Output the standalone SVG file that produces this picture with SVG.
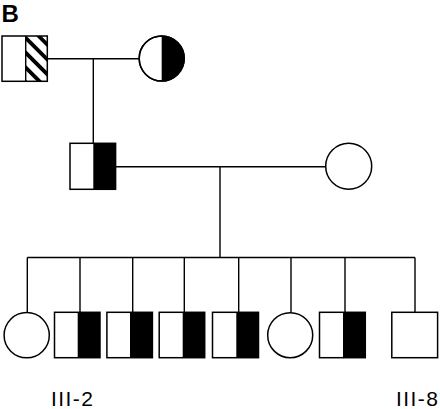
<svg xmlns="http://www.w3.org/2000/svg" width="440" height="409" viewBox="0 0 440 409">
<style>
.s{fill:#fff;stroke:#000;stroke-width:1.5}
.f{fill:#000;stroke:none}
.l{stroke:#000;stroke-width:1.4;fill:none}
.lab{font-family:"Liberation Sans",Arial,sans-serif;font-size:21px;fill:#000}
</style>
<defs>
<pattern id="hatch" patternUnits="userSpaceOnUse" width="10.5" height="10.5" patternTransform="rotate(-45)">
<rect x="0" y="0" width="3.8" height="10.5" fill="#000"/>
</pattern>
</defs>
<text x="1.5" y="22" font-family="Liberation Sans,Arial,sans-serif" font-weight="bold" font-size="24">B</text>
<g id="connectors">
<path class="l" d="M48 58.7H140M93.3 58.7V143.3"/>
<path class="l" d="M116 166.7H325.5M220 166.7V257.5"/>
<path class="l" d="M27.3 257.5H415M27.3 257.5V312.5M80 257.5V312.3M132.7 257.5V312.3M184.3 257.5V312.3M238.7 257.5V312.3M291 257.5V312.5M345 257.5V312.3M415 257.5V312.3"/>
</g>
<g id="I-1">
<rect x="25.7" y="36" width="21.6" height="45.3" fill="url(#hatch)"/>
<rect x="2" y="36" width="45.3" height="45.3" fill="none" stroke="#000" stroke-width="1.5"/>
<line class="l" x1="25.7" y1="36" x2="25.7" y2="81.3"/>
</g>
<g id="I-2">
<circle class="s" cx="161.7" cy="58.5" r="22.5"/>
<path class="f" d="M161.7 36A22.5 22.5 0 0 1 161.7 81Z"/>
<circle cx="161.7" cy="58.5" r="22.5" fill="none" stroke="#000" stroke-width="1.5"/>
</g>
<g id="II-1">
<rect class="s" x="70" y="143.3" width="45.6" height="46"/>
<rect class="f" x="93.3" y="143.3" width="22.3" height="46"/>
</g>
<g id="II-2">
<circle class="s" cx="348.7" cy="166.3" r="23"/>
</g>
<g id="III-1"><circle class="s" cx="26.7" cy="335.2" r="22.6"/></g>
<g id="III-2">
<rect class="s" x="54.5" y="312.3" width="45.5" height="45.4"/>
<rect class="f" x="77.7" y="312.3" width="22.3" height="45.4"/>
</g>
<g id="III-3">
<rect class="s" x="106.9" y="312.3" width="45.5" height="45.4"/>
<rect class="f" x="130" y="312.3" width="22.4" height="45.4"/>
</g>
<g id="III-4">
<rect class="s" x="159.2" y="312.3" width="45.5" height="45.4"/>
<rect class="f" x="182.7" y="312.3" width="22" height="45.4"/>
</g>
<g id="III-5">
<rect class="s" x="212.5" y="312.3" width="46" height="45.4"/>
<rect class="f" x="236.3" y="312.3" width="22.2" height="45.4"/>
</g>
<g id="III-6"><circle class="s" cx="290.2" cy="335.2" r="22.5"/></g>
<g id="III-7">
<rect class="s" x="319.5" y="312.3" width="45.8" height="45.4"/>
<rect class="f" x="343" y="312.3" width="22.3" height="45.4"/>
</g>
<g id="III-8">
<rect class="s" x="391.8" y="312.3" width="45.8" height="45.4"/>
</g>
<text class="lab" x="51" y="405.5" textLength="42" lengthAdjust="spacing">III-2</text>
<text class="lab" x="396" y="405.5" textLength="42" lengthAdjust="spacing">III-8</text>
</svg>
